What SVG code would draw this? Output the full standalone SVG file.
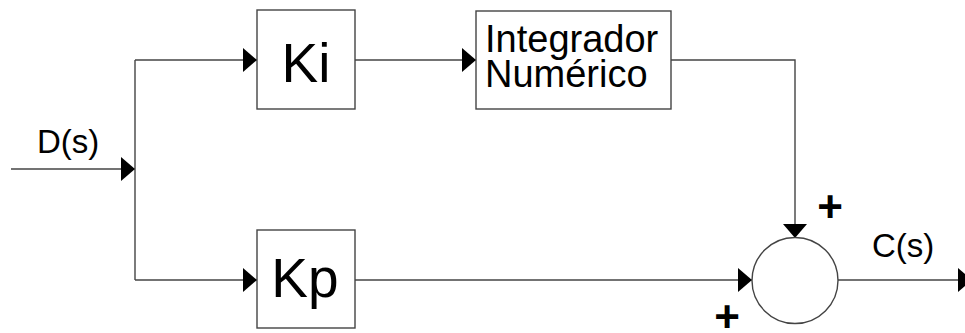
<svg xmlns="http://www.w3.org/2000/svg" width="965" height="333" viewBox="0 0 965 333">
  <defs>
    <marker id="arrow" markerUnits="userSpaceOnUse" markerWidth="14" markerHeight="24" refX="14" refY="12" orient="auto" viewBox="0 0 14 24">
      <path d="M0,0 L14,12 L0,24 Z" fill="#000"/>
    </marker>
    <style>
      .wire { fill: none; stroke: #444; stroke-width: 1.4; }
      .block { fill: #fff; stroke: #444; stroke-width: 1.4; }
      .lbl { font-family: "Liberation Sans", Arial, sans-serif; fill: #000; }
      .sign { font-family: "Liberation Sans", Arial, sans-serif; font-weight: bold; fill: #000; font-size: 44px; text-anchor: middle; }
    </style>
  </defs>
  <rect width="965" height="333" fill="#fff"/>

  <!-- connectors -->
  <g id="connectors">
    <line class="wire" x1="11" y1="169" x2="135" y2="169" marker-end="url(#arrow)"/>
    <line class="wire" x1="135" y1="60" x2="135" y2="280"/>
    <line class="wire" x1="135" y1="60" x2="257" y2="60" marker-end="url(#arrow)"/>
    <line class="wire" x1="135" y1="280" x2="257" y2="280" marker-end="url(#arrow)"/>
    <line class="wire" x1="355" y1="60" x2="476" y2="60" marker-end="url(#arrow)"/>
    <polyline class="wire" points="671,60 795,60 795,238" marker-end="url(#arrow)"/>
    <line class="wire" x1="355" y1="280" x2="752" y2="280" marker-end="url(#arrow)"/>
    <line class="wire" x1="838" y1="280" x2="972" y2="280" marker-end="url(#arrow)"/>
  </g>

  <!-- input / output labels -->
  <text class="lbl" x="37" y="153" font-size="33">D(s)</text>
  <text class="lbl" x="872" y="257" font-size="33">C(s)</text>

  <g id="ki">
    <rect class="block" x="257" y="10" width="98" height="99"/>
    <text class="lbl" x="306" y="82" font-size="55" text-anchor="middle">Ki</text>
  </g>

  <g id="integrador">
    <rect class="block" x="476" y="11" width="195" height="98"/>
    <text class="lbl" x="485" y="52" font-size="38">Integrador</text>
    <text class="lbl" x="485" y="87" font-size="38">Numérico</text>
  </g>

  <g id="kp">
    <rect class="block" x="257" y="230" width="98" height="98"/>
    <text class="lbl" x="305" y="297" font-size="55" text-anchor="middle">Kp</text>
  </g>

  <g id="somador">
    <circle class="block" cx="795" cy="280.5" r="43"/>
    <text class="sign" x="830" y="222">+</text>
    <text class="sign" x="727" y="332">+</text>
  </g>
</svg>
